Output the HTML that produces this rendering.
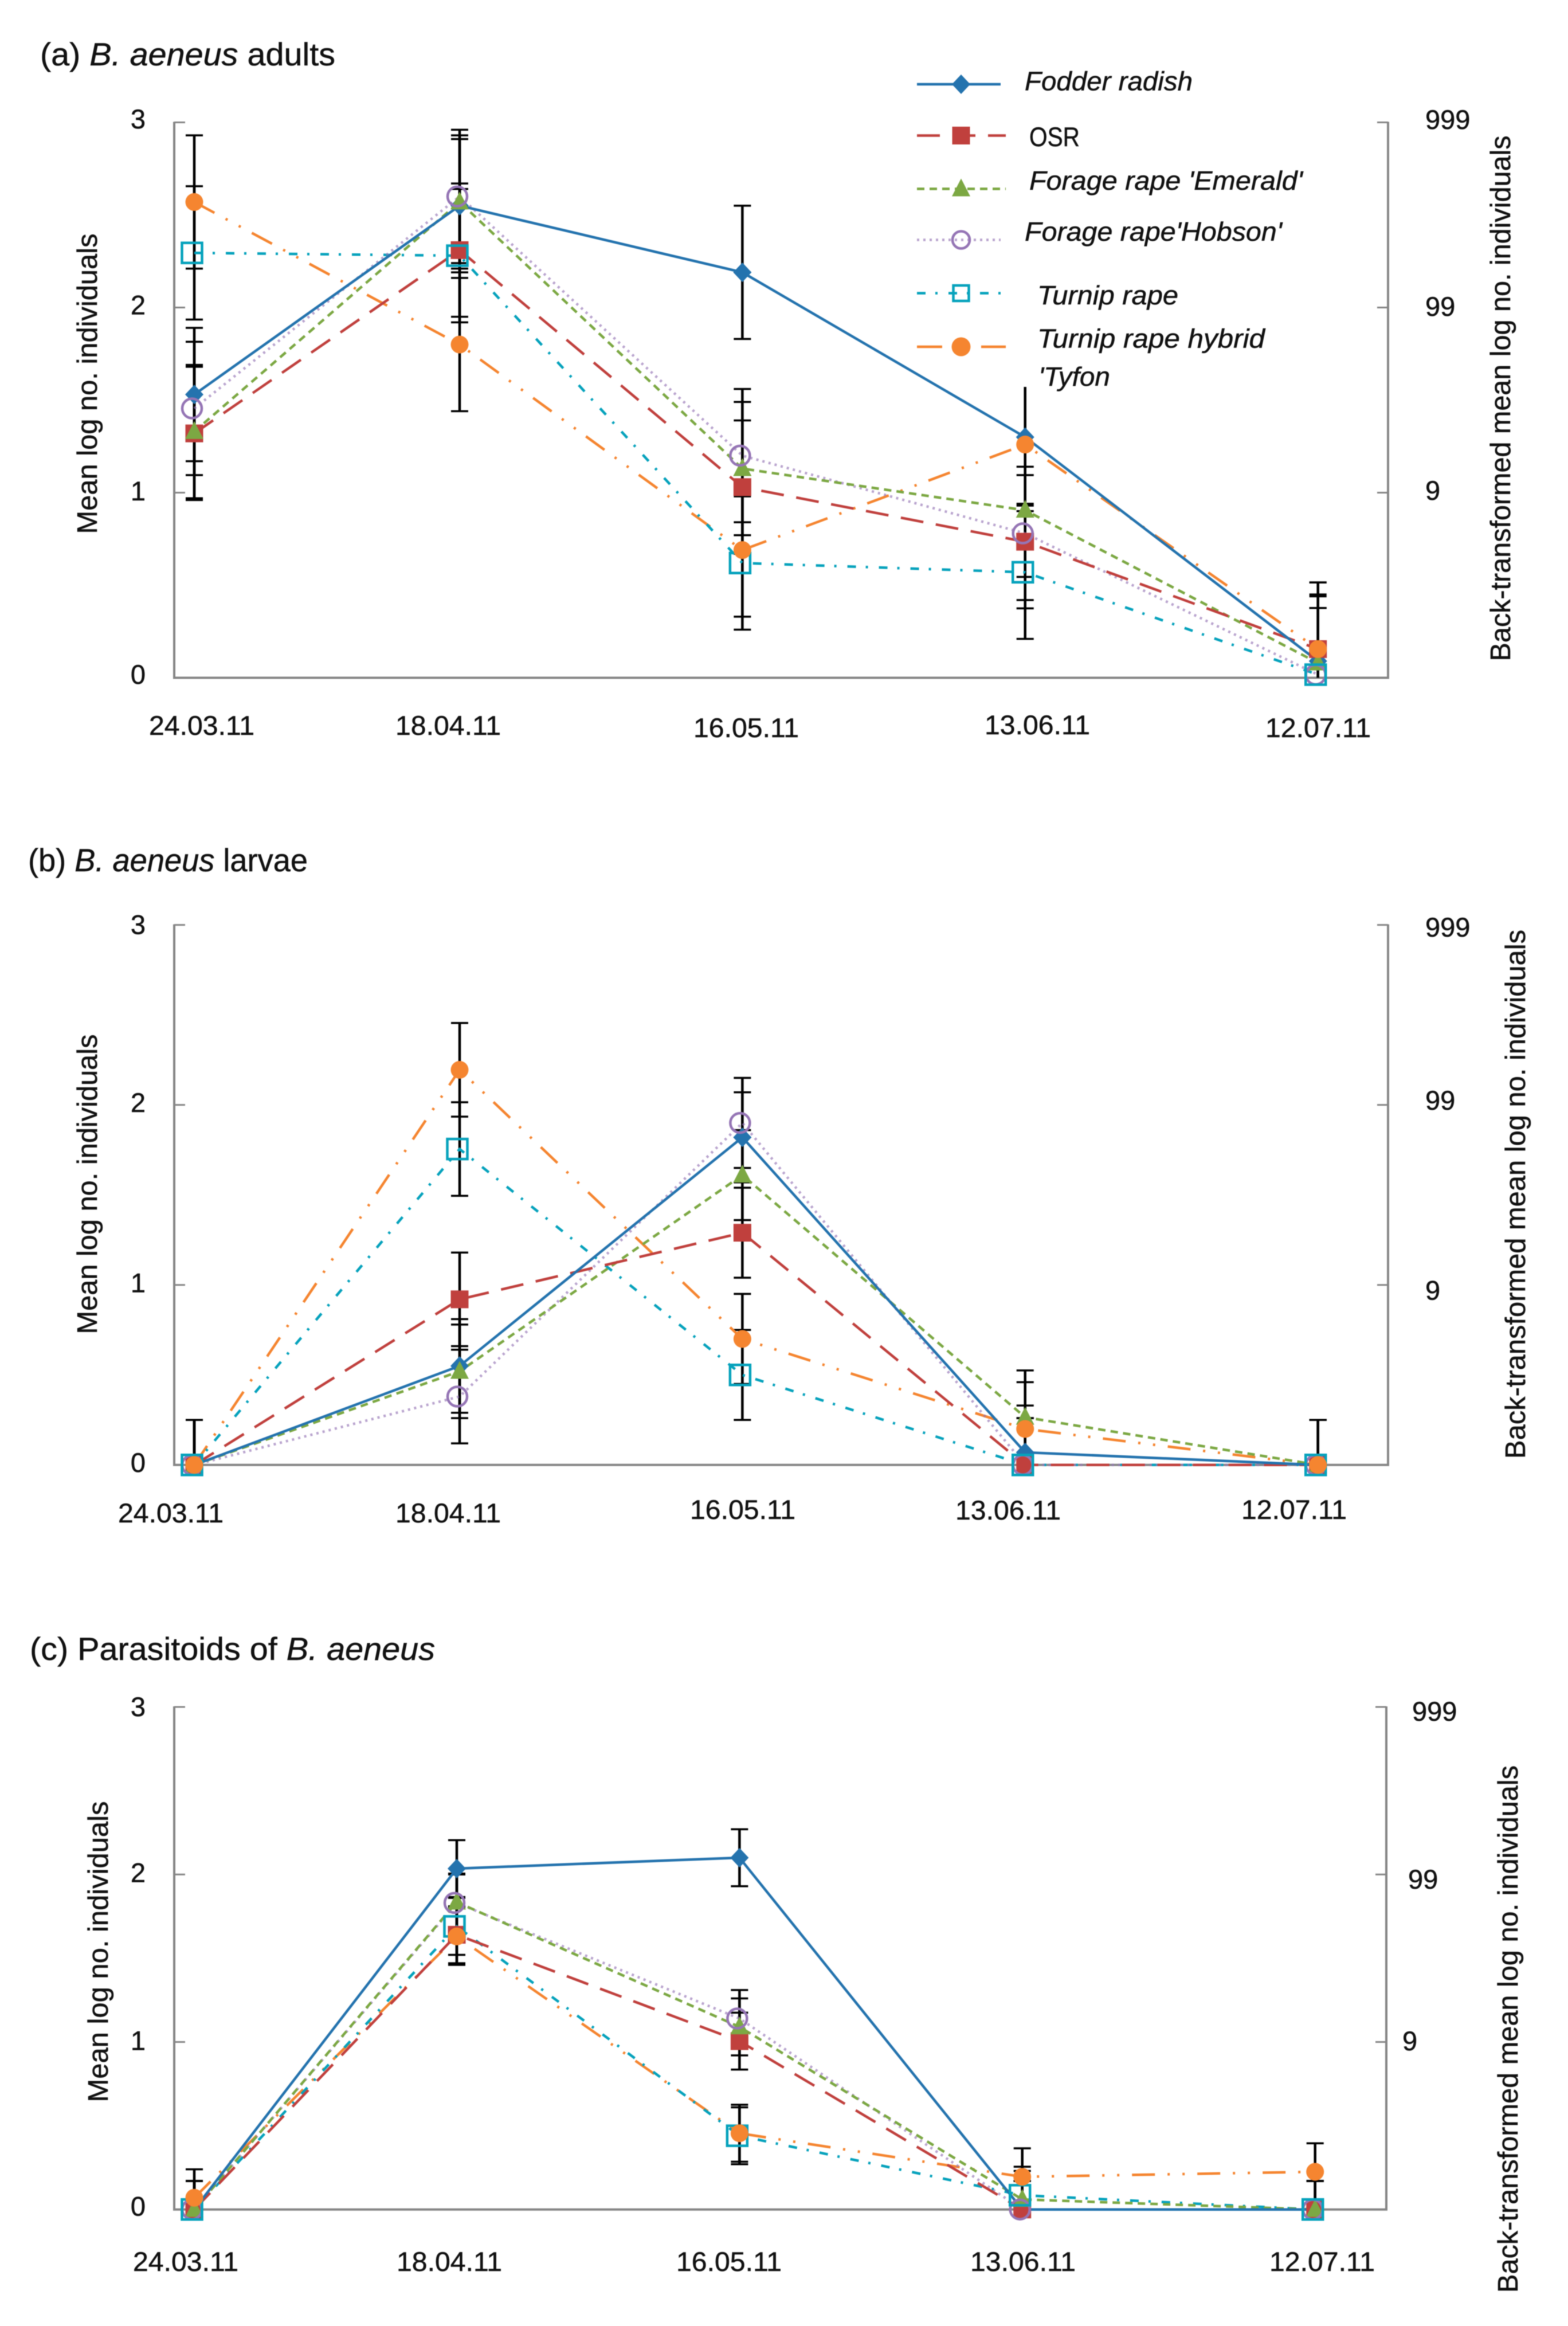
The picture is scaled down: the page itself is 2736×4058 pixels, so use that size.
<!DOCTYPE html>
<html lang="en">
<head>
<meta charset="utf-8">
<title>Meligethes aeneus counts by sampling date</title>
<style>
  html, body { margin: 0; padding: 0; background: #fff; }
  svg { display: block; filter: blur(0.9px); }
  text { font-family: "Liberation Sans", sans-serif; fill: #111; stroke: #111; stroke-width: 0.5px; }
</style>
</head>
<body>
<svg id="figure" xmlns="http://www.w3.org/2000/svg" width="2736" height="4058" viewBox="0 0 2736 4058">
  <rect x="0" y="0" width="2736" height="4058" fill="#ffffff"/>

  <g id="layer-a"></g>
  <g id="layer-b"></g>
  <g id="layer-c"></g>

  <text x="70" y="114" font-size="56" textLength="515" lengthAdjust="spacingAndGlyphs">(a) <tspan font-style="italic">B. aeneus</tspan> adults</text>
  <text x="49" y="1520" font-size="56" textLength="488" lengthAdjust="spacingAndGlyphs">(b) <tspan font-style="italic">B. aeneus</tspan> larvae</text>
  <text x="52" y="2896" font-size="56" textLength="707" lengthAdjust="spacingAndGlyphs">(c) Parasitoids of <tspan font-style="italic">B. aeneus</tspan></text>

  <text transform="translate(169,669.5) rotate(-90)" text-anchor="middle" font-size="49" textLength="524" lengthAdjust="spacingAndGlyphs">Mean log no. individuals</text>
  <text transform="translate(169,2066) rotate(-90)" text-anchor="middle" font-size="49" textLength="523" lengthAdjust="spacingAndGlyphs">Mean log no. individuals</text>
  <text transform="translate(188,3405) rotate(-90)" text-anchor="middle" font-size="49" textLength="525" lengthAdjust="spacingAndGlyphs">Mean log no. individuals</text>

  <text transform="translate(2635,695) rotate(-90)" text-anchor="middle" font-size="49" textLength="917" lengthAdjust="spacingAndGlyphs">Back-transformed mean log no. individuals</text>
  <text transform="translate(2661,2083.5) rotate(-90)" text-anchor="middle" font-size="49" textLength="923" lengthAdjust="spacingAndGlyphs">Back-transformed mean log no. individuals</text>
  <text transform="translate(2648,3540) rotate(-90)" text-anchor="middle" font-size="49" textLength="920" lengthAdjust="spacingAndGlyphs">Back-transformed mean log no. individuals</text>

  <g id="legend-marks"></g>
  <g>
    <text x="1788" y="157.5" font-size="46" font-style="italic" textLength="293" lengthAdjust="spacingAndGlyphs">Fodder radish</text>
    <text x="1796" y="255" font-size="47" textLength="88" lengthAdjust="spacingAndGlyphs">OSR</text>
    <text x="1796" y="331" font-size="46" font-style="italic" textLength="477" lengthAdjust="spacingAndGlyphs">Forage rape 'Emerald'</text>
    <text x="1788" y="420" font-size="46" font-style="italic" textLength="449" lengthAdjust="spacingAndGlyphs">Forage rape'Hobson'</text>
    <text x="1810" y="531" font-size="46" font-style="italic" textLength="246" lengthAdjust="spacingAndGlyphs">Turnip rape</text>
    <rect x="1770" y="632" width="190" height="43" fill="#ffffff"/>
    <text x="1810" y="606.5" font-size="46" font-style="italic" textLength="397" lengthAdjust="spacingAndGlyphs">Turnip rape hybrid</text>
    <text x="1812" y="673" font-size="46" font-style="italic" textLength="125" lengthAdjust="spacingAndGlyphs">'Tyfon</text>
  </g>
</svg>

<script>
// ---- Shared categories and tick labels ----
const sampleDates = ['24.03.11', '18.04.11', '16.05.11', '13.06.11', '12.07.11'];
const sampleDayNumbers = [0, 25, 53, 81, 110];
const leftTickValues = [0, 1, 2, 3];
const leftTickLabels = ['0', '1', '2', '3'];
const rightTickValues = [1, 2, 3];
const rightTickLabels = ['9', '99', '999'];

// ---- Panel (a) B. aeneus adults: mean log no. individuals ----
const aFodderRadish = [1.53, 2.55, 2.19, 1.30, 0.09];
const aOSR = [1.32, 2.31, 1.03, 0.735, 0.155];
const aEmerald = [1.33, 2.57, 1.13, 0.905, 0.08];
const aHobson = [1.455, 2.60, 1.20, 0.78, 0.017];
const aTurnipRape = [2.295, 2.28, 0.62, 0.57, 0.017];
const aTyfon = [2.57, 1.80, 0.69, 1.26, 0.155];
const aStdErr = [0.36, 0.36, 0.36, 0.36, 0.36];

// ---- Panel (b) B. aeneus larvae ----
const bFodderRadish = [0, 0.55, 1.82, 0.07, 0];
const bOSR = [0, 0.92, 1.29, 0, 0];
const bEmerald = [0, 0.52, 1.61, 0.265, 0];
const bHobson = [0, 0.38, 1.90, 0, 0];
const bTurnipRape = [0, 1.755, 0.50, 0, 0];
const bTyfon = [0, 2.195, 0.70, 0.20, 0];
const bStdErr = [0.25, 0.26, 0.25, 0.26, 0.25];

// ---- Panel (c) Parasitoids of B. aeneus ----
const cFodderRadish = [0, 2.035, 2.10, 0, 0];
const cOSR = [0, 1.64, 1.005, 0, 0];
const cEmerald = [0, 1.835, 1.09, 0.06, 0];
const cHobson = [0, 1.83, 1.14, 0, 0];
const cTurnipRape = [0, 1.69, 0.44, 0.085, 0];
const cTyfon = [0.07, 1.63, 0.455, 0.195, 0.225];
const cStdErr = [0.17, 0.17, 0.17, 0.17, 0.17];

// ---- Series styling (no data here) ----
const seriesStyles = [
  { key: 'fodder-radish', color: '#2473AE', dash: '', marker: 'diamond', width: 4.5, opacity: 1, nudge: 0 },
  { key: 'osr', color: '#C0403D', dash: '40 22', marker: 'square', width: 4.5, opacity: 1, nudge: 0 },
  { key: 'forage-rape-emerald', color: '#7CA843', dash: '13 9', marker: 'triangle', width: 4.5, opacity: 1, nudge: 0 },
  { key: 'forage-rape-hobson', color: '#9575B5', dash: '4 7', marker: 'ring', width: 4.5, opacity: 0.65, nudge: -4 },
  { key: 'turnip-rape', color: '#06A2BC', dash: '15 17 4 19', marker: 'box', width: 4.5, opacity: 1, nudge: -4 },
  { key: 'turnip-rape-hybrid-tyfon', color: '#F58530', dash: '40 22 4 22 4 22', marker: 'disc', width: 4.5, opacity: 1, nudge: 0 }
];

const panelSeries = {
  a: [aFodderRadish, aOSR, aEmerald, aHobson, aTurnipRape, aTyfon],
  b: [bFodderRadish, bOSR, bEmerald, bHobson, bTurnipRape, bTyfon],
  c: [cFodderRadish, cOSR, cEmerald, cHobson, cTurnipRape, cTyfon]
};
const panelErrors = { a: aStdErr, b: bStdErr, c: cStdErr };

// ---- Page layout for each panel (hand-placed labels in the source figure) ----
const panelLayouts = {
  a: {
    left: 304, right: 2422, y3: 213.5, y0: 1182.5, x0: 339, x1: 802, dayPx: 17.62,
    dateLabelCentre: [352, 782, 1302, 1810, 2300],
    dateLabelBaseline: [1282, 1282, 1286, 1281, 1286],
    leftLabelNudge: [-6.7, -3.5, -5, -6.7],
    rightLabelStart: [2487, 2487, 2487],
    rightLabelNudge: [-4.5, -2.7, -5.5]
  },
  b: {
    left: 304, right: 2422, y3: 1613.6, y0: 2555.8, x0: 339, x1: 802, dayPx: 17.62,
    dateLabelCentre: [298, 782, 1296, 1759, 2258],
    dateLabelBaseline: [2656, 2656, 2650, 2651, 2650],
    leftLabelNudge: [-4.8, -4, -4.7, -1.3],
    rightLabelStart: [2487, 2487, 2487],
    rightLabelNudge: [9, -8.7, 3.4]
  },
  c: {
    left: 304, right: 2419, y3: 2978, y0: 3854.7, x0: 339, x1: 797, dayPx: 17.62,
    dateLabelCentre: [324, 784, 1272, 1785, 2307],
    dateLabelBaseline: [3962, 3962, 3962, 3962, 3962],
    leftLabelNudge: [-6, -3, -3.7, -1.2],
    rightLabelStart: [2447, 2457, 2464],
    rightLabelNudge: [-2.5, 7.6, 7]
  }
};

const SVG_NS = 'http://www.w3.org/2000/svg';

function make(parent, tag, attrs) {
  const el = document.createElementNS(SVG_NS, tag);
  for (const k in attrs) el.setAttribute(k, attrs[k]);
  parent.appendChild(el);
  return el;
}

function drawMarker(parent, kind, cx, cy, color, large) {
  let el;
  if (kind === 'diamond') {
    el = make(parent, 'polygon', { points: `${cx},${cy - 17} ${cx + 16},${cy} ${cx},${cy + 17} ${cx - 16},${cy}`, fill: color });
  } else if (kind === 'square') {
    el = make(parent, 'rect', { x: cx - 15.5, y: cy - 15.5, width: 31, height: 31, fill: color });
  } else if (kind === 'triangle') {
    el = make(parent, 'polygon', { points: `${cx},${cy - 18} ${cx + 16},${cy + 13} ${cx - 16},${cy + 13}`, fill: color });
  } else if (kind === 'ring') {
    const r = large ? 17 : 15;
    el = make(parent, 'circle', { cx: cx, cy: cy, r: r, fill: 'none', stroke: color, 'stroke-width': 4.5 });
  } else if (kind === 'box') {
    const half = large ? 17.5 : 13.5;
    el = make(parent, 'rect', { x: cx - half, y: cy - half, width: half * 2, height: half * 2, fill: 'none', stroke: color, 'stroke-width': 4.5 });
  } else {
    const r = large ? 15.5 : 16.5;
    el = make(parent, 'circle', { cx: cx, cy: cy, r: r, fill: color });
  }
  return el;
}

function xScale(layout, i) {
  if (i === 0) return layout.x0;
  return layout.x1 + (sampleDayNumbers[i] - sampleDayNumbers[1]) * layout.dayPx;
}

function yScale(layout, v) {
  return layout.y0 - v * (layout.y0 - layout.y3) / 3;
}

function drawPanel(id) {
  const layer = document.getElementById('layer-' + id);
  const layout = panelLayouts[id];
  const seriesValues = panelSeries[id];
  const errors = panelErrors[id];
  const AXIS = '#868686';

  // axes
  const leftAxis = make(layer, 'line', { x1: layout.left, y1: layout.y3 - 1, x2: layout.left, y2: layout.y0 + 1.5, stroke: AXIS, 'stroke-width': 4 });
  
  
  const rightAxis = make(layer, 'line', { x1: layout.right, y1: layout.y3 - 1, x2: layout.right, y2: layout.y0 + 1.5, stroke: AXIS, 'stroke-width': 4 });
  
  
  const bottomAxis = make(layer, 'line', { x1: layout.left - 2, y1: layout.y0, x2: layout.right + 2, y2: layout.y0, stroke: AXIS, 'stroke-width': 4 });
  
  

  // left ticks and labels
  leftTickValues.forEach(function (v, i) {
    const y = yScale(layout, v);
    if (v > 0) {
      const tick = make(layer, 'line', { x1: layout.left, y1: y, x2: layout.left + 19, y2: y, stroke: AXIS, 'stroke-width': 3 });
      
      
    }
    const label = make(layer, 'text', { x: 241, y: y + 17 + layout.leftLabelNudge[i], 'font-size': 47, 'text-anchor': 'middle' });
    label.textContent = leftTickLabels[i];
    
    
  });

  // right ticks and labels
  rightTickValues.forEach(function (v, i) {
    const y = yScale(layout, v);
    const tick = make(layer, 'line', { x1: layout.right, y1: y, x2: layout.right - 19, y2: y, stroke: AXIS, 'stroke-width': 3 });
    
    
    const label = make(layer, 'text', { x: layout.rightLabelStart[i], y: y + 17 + layout.rightLabelNudge[i], 'font-size': 47 });
    label.textContent = rightTickLabels[i];
    
    
  });

  // date labels
  sampleDates.forEach(function (d, i) {
    const label = make(layer, 'text', { x: layout.dateLabelCentre[i], y: layout.dateLabelBaseline[i], 'font-size': 47, 'text-anchor': 'middle', textLength: 184, lengthAdjust: 'spacingAndGlyphs' });
    label.textContent = d;
    
    
  });

  // error bars, underneath the lines and markers
  seriesValues.forEach(function (values, s) {
    values.forEach(function (v, i) {
      const e = errors[i];
      const x = xScale(layout, i);
      const yHi = yScale(layout, v + e);
      const yLo = yScale(layout, Math.max(0, v - e));
      const stem = make(layer, 'line', { x1: x, y1: yHi, x2: x, y2: yLo, stroke: '#000', 'stroke-width': 4.5 });
      
      
      const capHi = make(layer, 'line', { x1: x - 15, y1: yHi, x2: x + 15, y2: yHi, stroke: '#000', 'stroke-width': 3.5 });
      
      
      if (v - e >= 0) {
        const capLo = make(layer, 'line', { x1: x - 15, y1: yLo, x2: x + 15, y2: yLo, stroke: '#000', 'stroke-width': 3.5 });
        
        
      }
    });
  });

  // lines, with the solid fodder radish line on top
  for (let s = seriesValues.length - 1; s >= 0; s--) {
    const st = seriesStyles[s];
    const pts = seriesValues[s].map(function (v, i) { return xScale(layout, i) + ',' + yScale(layout, v); }).join(' ');
    const line = make(layer, 'polyline', { points: pts, fill: 'none', stroke: st.color, 'stroke-width': st.width, 'stroke-dasharray': st.dash, 'stroke-opacity': st.opacity });
    
    
  }

  // markers
  seriesValues.forEach(function (values, s) {
    const st = seriesStyles[s];
    values.forEach(function (v, i) {
      const m = drawMarker(layer, st.marker, xScale(layout, i) + st.nudge, yScale(layout, v), st.color, true);
      
      
    });
  });
}

function drawLegendKeys() {
  const g = document.getElementById('legend-marks');
  const rowY = [147, 236.5, 329.5, 418.5, 511.5, 605];
  const rowEnd = [1746, 1755, 1755, 1746, 1755, 1755];
  seriesStyles.forEach(function (st, s) {
    const dash = st.marker === 'disc' ? '44 68 44' : st.dash;
    const key = make(g, 'line', { x1: 1600, y1: rowY[s], x2: rowEnd[s], y2: rowY[s], stroke: st.color, 'stroke-width': 4.5, 'stroke-dasharray': dash, 'stroke-opacity': st.opacity });
    
    
    const m = drawMarker(g, st.marker, 1677, rowY[s], st.color, false);
    
    
  });
}

drawPanel('a');
drawPanel('b');
drawPanel('c');
drawLegendKeys();
</script>
</body>
</html>
